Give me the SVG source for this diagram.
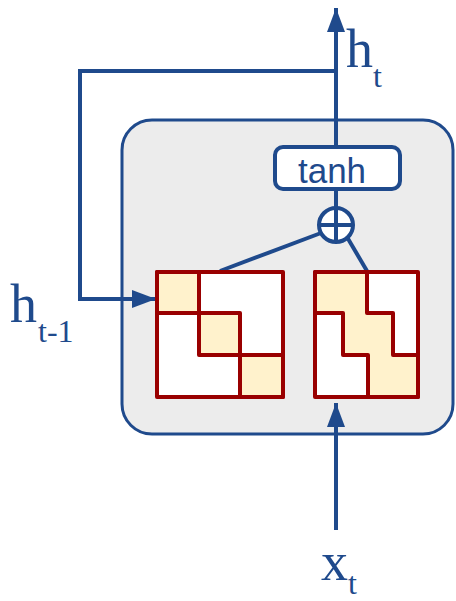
<svg xmlns="http://www.w3.org/2000/svg" width="456" height="601" viewBox="0 0 456 601">
  <style>
    .wire { fill: none; stroke: #1F4A8C; stroke-width: 4; }
    .mat { stroke: #990000; stroke-width: 4; stroke-linejoin: round; }
    .lbl { font-family: "Liberation Serif", "Times New Roman", serif; fill: #1F4A8C; }
    .sans { font-family: "Liberation Sans", Arial, sans-serif; fill: #1F4A8C; }
  </style>
  <defs>
    <marker id="head" viewBox="0 0 24 18" refX="24" refY="9" markerWidth="24" markerHeight="18" markerUnits="userSpaceOnUse" orient="auto">
      <path d="M0,0 L24,9 L0,18 Z" fill="#1F4A8C"/>
    </marker>
  </defs>

  <rect id="cell" x="122" y="120" width="331" height="314" rx="30" ry="30" fill="#ECECEC" stroke="#1F4A8C" stroke-width="3"/>

  <g id="connectors">
    <!-- output up through tanh -->
    <path class="wire" d="M336,242 L336,189"/>
    <path class="wire" d="M336,147 L336,8" marker-end="url(#head)"/>
    <!-- recurrent feedback loop -->
    <path class="wire" d="M336,71 L80,71 L80,299 L156,299" marker-end="url(#head)"/>
    <!-- input -->
    <path class="wire" d="M336,530 L336,403" marker-end="url(#head)"/>
    <!-- matrices into the sum -->
    <path class="wire" d="M220,271 L321,233"/>
    <path class="wire" d="M367,271 L347,237"/>
  </g>

  <g id="sum">
    <circle cx="336" cy="225" r="17" fill="#FFFFFF" stroke="#1F4A8C" stroke-width="4"/>
    <path class="wire" d="M336,208 L336,242 M319,225 L353,225"/>
  </g>

  <g id="tanh">
    <rect x="275" y="147" width="125" height="42" rx="8" ry="8" fill="#FFFFFF" stroke="#1F4A8C" stroke-width="4"/>
    <text class="sans" x="332" y="183" font-size="35" text-anchor="middle">tanh</text>
  </g>

  <g id="recurrent-matrix">
    <rect x="157" y="272" width="126" height="125" fill="#FFFFFF" class="mat"/>
    <rect x="157" y="272" width="42" height="41" fill="#FFF2CC" class="mat"/>
    <rect x="199" y="313" width="41" height="42" fill="#FFF2CC" class="mat"/>
    <rect x="240" y="355" width="43" height="42" fill="#FFF2CC" class="mat"/>
  </g>

  <g id="input-matrix">
    <rect x="315" y="272" width="103" height="125" fill="#FFFFFF" class="mat"/>
    <path class="mat" fill="#FFF2CC" d="M315,272 L367,272 L367,313 L393,313 L393,355 L418,355 L418,397 L368,397 L368,355 L343,355 L343,313 L315,313 Z"/>
  </g>

  <g id="labels">
    <text class="lbl" x="346" y="67" font-size="54">h</text>
    <text class="lbl" x="373" y="87" font-size="32">t</text>
    <text class="lbl" x="10" y="322" font-size="54">h</text>
    <text class="lbl" x="38" y="342" font-size="32">t-1</text>
    <text class="lbl" x="321" y="580" font-size="54">x</text>
    <text class="lbl" x="348" y="594" font-size="32">t</text>
  </g>
</svg>
